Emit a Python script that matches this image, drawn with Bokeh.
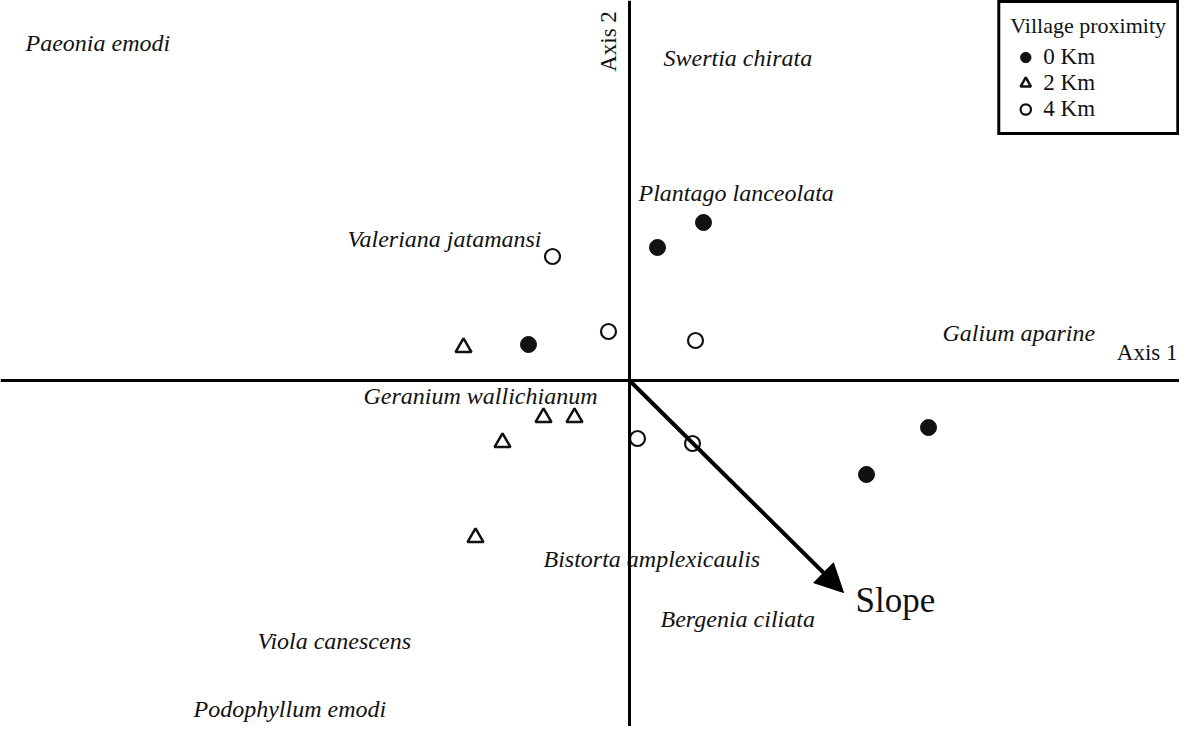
from bokeh.plotting import figure
from bokeh.models import ColumnDataSource, Span, Arrow, NormalHead, Legend, LegendItem
from bokeh.core.properties import value
from bokeh.embed import file_html
from bokeh.resources import INLINE
import math

# Site scores (Axis 1, Axis 2) by village proximity
km0_x = [0.74, 0.28, -1.01, 2.99, 2.37]
km0_y = [1.58, 1.33, 0.36, -0.47, -0.94]
km2_x = [-1.66, -0.86, -0.55, -1.27, -1.54]
km2_y = [0.33, -0.37, -0.37, -0.62, -1.57]
km4_x = [-0.77, -0.21, 0.66, 0.08, 0.63]
km4_y = [1.24, 0.49, 0.40, -0.58, -0.63]

# Species labels
species = ["Paeonia emodi", "Swertia chirata", "Plantago lanceolata", "Valeriana jatamansi",
           "Galium aparine", "Geranium wallichianum", "Bistorta amplexicaulis",
           "Bergenia ciliata", "Viola canescens", "Podophyllum emodi"]
species_x = [-6.04, 0.34, 0.09, -2.82, 3.13, -2.66, -0.86, 0.31, -3.72, -4.36]
species_y = [3.38, 3.23, 1.88, 1.42, 0.48, -0.15, -1.78, -2.38, -2.60, -3.28]

# Environmental vector
slope_x = 2.14
slope_y = -2.12

legend_labels = ["0 Km", "2 Km", "4 Km"]

FONT = "Liberation Serif"
INK = "#111111"

p = figure(width=1179, height=726, x_range=(-6.29, 5.50), y_range=(-3.46, 3.80),
           output_backend="svg", toolbar_location=None, min_border=0,
           x_axis_location=None, y_axis_location=None)
p.grid.visible = False
p.outline_line_color = None
p.background_fill_color = "white"

# Axes through origin
p.add_layout(Span(location=0, dimension="width", line_color="black", line_width=3))
p.add_layout(Span(location=0, dimension="height", line_color="black", line_width=3))

# Slope arrow
p.add_layout(Arrow(end=NormalHead(size=28, fill_color="black", line_color="black"),
                   x_start=0, y_start=0, x_end=slope_x, y_end=slope_y,
                   line_width=4, line_color="black"))

r0 = p.scatter(km0_x, km0_y, marker="circle", size=16, fill_color=INK, line_color=INK)
r2 = p.scatter(km2_x, km2_y, marker="triangle", size=16, fill_color="white",
               line_color=INK, line_width=2.5)
r4 = p.scatter(km4_x, km4_y, marker="circle", size=15, fill_color="white",
               line_color=INK, line_width=2.2)

src = ColumnDataSource(dict(x=species_x, y=species_y, t=species))
p.text(x="x", y="y", text="t", source=src, text_font=value(FONT), text_font_style="italic",
       text_font_size="24px", text_align="left", text_baseline="middle", text_color=INK)

p.text(x=[5.48], y=[0.28], text=["Axis 1"], text_font=value(FONT), text_font_size="23px",
       text_align="right", text_baseline="middle", text_color=INK)
p.text(x=[-0.21], y=[3.39], text=["Axis 2"], angle=math.pi / 2, text_font=value(FONT),
       text_font_size="23px", text_align="center", text_baseline="middle", text_color=INK)
p.text(x=[2.26], y=[-2.20], text=["Slope"], text_font=value(FONT), text_font_size="35px",
       text_align="left", text_baseline="middle", text_color=INK)

legend = Legend(items=[LegendItem(label=legend_labels[0], renderers=[r0]),
                       LegendItem(label=legend_labels[1], renderers=[r2]),
                       LegendItem(label=legend_labels[2], renderers=[r4])],
                title="Village proximity", location="top_right", margin=0, padding=10,
                border_line_color="black", border_line_width=3, border_line_alpha=1,
                title_text_font=FONT, title_text_font_size="22px", title_text_font_style="normal",
                title_text_color=INK,
                label_text_font=FONT, label_text_font_size="23px", label_text_color=INK,
                glyph_width=30, glyph_height=26, spacing=0, label_standoff=3,
                background_fill_color="white", background_fill_alpha=1)
p.add_layout(legend)

open("out.html", "w").write(file_html(p, INLINE))
